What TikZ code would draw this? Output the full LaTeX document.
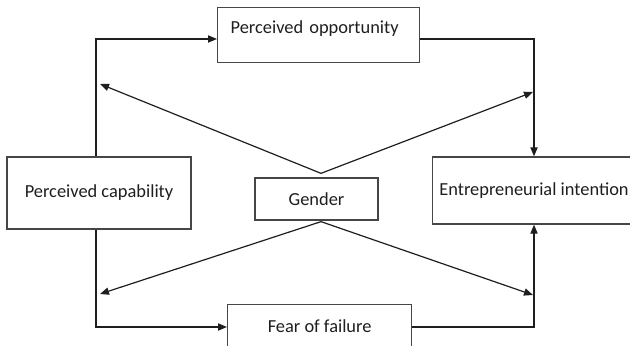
\documentclass[tikz,border=0pt]{standalone}
\usepackage{fontspec}
\setmainfont{Carlito}
\usepackage{xcolor}
\usepackage{tikz}
\usetikzlibrary{positioning,arrows.meta,calc}
\definecolor{boxline}{RGB}{70,70,70}
\definecolor{ink}{RGB}{30,30,30}

\begin{document}
\begin{tikzpicture}[x=0.5pt, y=-0.5pt,
    box/.style={draw=boxline, line width=0.65pt, rectangle, text=ink,
      font=\fontsize{9.2}{11}\selectfont},
    link/.style={draw=ink, line width=0.6pt, -{Triangle[length=4.5pt,width=3.6pt]}}]
  \clip (0,0) rectangle (630,346);
  \node[box, anchor=north west, inner xsep=6.5pt, inner ysep=0pt, text width=88pt,
    align=left, text height=13pt, text depth=14.5pt] (opp) at (217,7) {Perceived opportunity};
  \node[box, minimum width=92pt, minimum height=36pt] (cap) at (99,193) {Perceived capability};
  \node[box, minimum width=61.5pt, minimum height=21pt] (gender) at (316.5,199) {Gender};
  \node[box, minimum width=99pt, minimum height=33.5pt] (ent) at (534,190.5) {Entrepreneurial intention};
  \node[box, anchor=north west, minimum width=92pt, inner ysep=0pt,
    text height=14pt, text depth=14pt] (fear) at (227,304) {Fear of failure};

  \coordinate (tl) at (96,39);
  \coordinate (tr) at (534,39);
  \coordinate (bl) at (96,327);
  \coordinate (br) at (534,327);
  \draw[link] (cap.north -| tl) -- (tl) -- (opp.west |- tl);
  \draw[link] (opp.east |- tr) -- (tr) -- (ent.north -| tr);
  \draw[link] (cap.south -| bl) -- (bl) -- (fear.west |- bl);
  \draw[link] (fear.east |- br) -- (br) -- (ent.south -| br);

  \coordinate (ul) at (100,84);
  \coordinate (ur) at (533,92);
  \coordinate (ll) at (100,294);
  \coordinate (lr) at (533,295);
  \coordinate (gtop) at ($(gender.north)+(4.5,-4)$);
  \coordinate (gbot) at ($(gender.south)+(4.5,1)$);
  \draw[link] (gtop) -- (ul);
  \draw[link] (gtop) -- (ur);
  \draw[link] (gbot) -- (ll);
  \draw[link] (gbot) -- (lr);
\end{tikzpicture}
\end{document}
